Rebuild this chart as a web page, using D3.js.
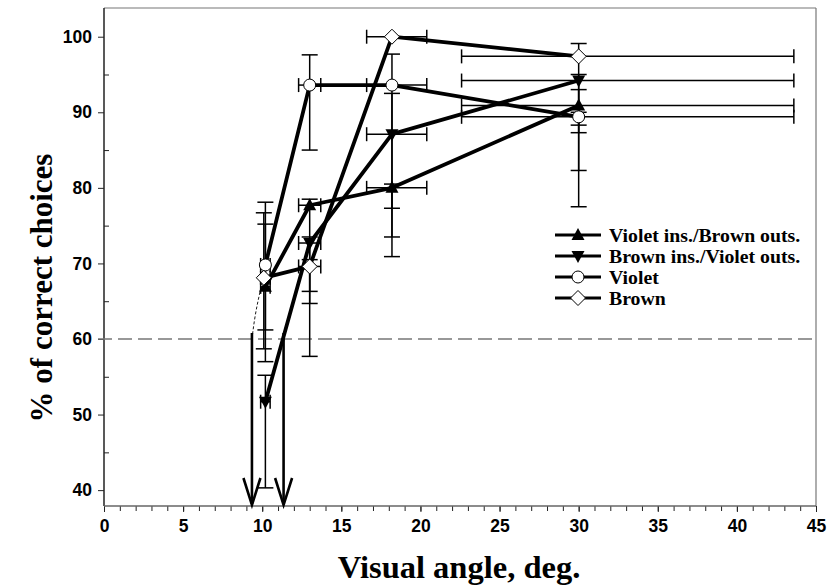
<!DOCTYPE html>
<html><head><meta charset="utf-8">
<script src="https://cdn.jsdelivr.net/npm/d3@7"></script>
<style>body{margin:0;background:#fff}svg{display:block}</style>
</head><body>
<svg id="c" width="830" height="585"></svg>
<script>
// ---- data ----
const seriesNames = ["Violet ins./Brown outs.", "Brown ins./Violet outs.", "Violet", "Brown"];
const seriesMarkers = ["triUp", "triDown", "circle", "diamond"];

const violetInsX = [10.2, 13.0, 18.2, 30.0];
const violetInsY = [66.9, 77.7, 80.0, 90.9];
const violetInsLow = [57.0, 66.3, 73.5, 88.3];
const violetInsHigh = [75.2, 78.5, 80.5, 93.0];

const brownInsX = [10.2, 13.0, 18.2, 30.0];
const brownInsY = [51.7, 72.7, 87.1, 94.2];
const brownInsLow = [40.3, 64.7, 70.9, 82.3];
const brownInsHigh = [55.2, 73.5, 92.5, 95.0];

const violetX = [10.2, 13.0, 18.2, 30.0];
const violetY = [69.8, 93.6, 93.6, 89.4];
const violetLow = [61.2, 85.0, 77.3, 77.5];
const violetHigh = [78.1, 97.6, 97.7, 90.0];

const brownX = [10.1, 13.0, 18.2, 30.0];
const brownY = [68.1, 69.6, 100.0, 97.4];
const brownLow = [58.7, 57.7, 100.0, 87.3];
const brownHigh = [76.7, 70.5, 100.0, 99.1];

// horizontal error extents (shared by all series at each visual angle)
const xErrLow = [9.9, 12.3, 16.6, 22.6];
const xErrHigh = [10.5, 13.7, 20.4, 43.6];

const thresholdValue = 60;
const arrowX = [9.35, 11.35];
const fitCurveX = [9.35, 9.6, 10.0];
const fitCurveY = [60, 63.6, 67.5];

const xTicks = [0, 5, 10, 15, 20, 25, 30, 35, 40, 45];
const yTicks = [40, 50, 60, 70, 80, 90, 100];

const xTitle = "Visual angle, deg.";
const yTitle = "% of correct choices";

// ---- chart ----
const svg = d3.select("#c");
const L = 104, R = 816, T = 8, B = 506;
const x = d3.scaleLinear([0, 45], [L, R]);
const y = d3.scaleLinear([37.9, 103.8], [B, T]);

const series = [
  {x: violetInsX, y: violetInsY, lo: violetInsLow, hi: violetInsHigh},
  {x: brownInsX, y: brownInsY, lo: brownInsLow, hi: brownInsHigh},
  {x: violetX, y: violetY, lo: violetLow, hi: violetHigh},
  {x: brownX, y: brownY, lo: brownLow, hi: brownHigh}
].map((s, i) => ({name: seriesNames[i], marker: seriesMarkers[i],
  pts: s.x.map((xv, j) => ({x: xv, y: s.y[j], lo: s.lo[j], hi: s.hi[j], xl: xErrLow[j], xh: xErrHigh[j]}))}));

const sansFont = "'Liberation Sans', Arial, sans-serif";
const serifFont = "'Liberation Serif', 'Times New Roman', serif";

// axes
const gx = svg.append("g").attr("transform", `translate(0,${B})`);
gx.call(d3.axisBottom(x).tickValues(d3.range(0, 46, 1)).tickSize(5).tickFormat(""));
gx.call(g => g.selectAll(".domain").remove());
const gx2 = svg.append("g").attr("transform", `translate(0,${B})`)
  .call(d3.axisBottom(x).tickValues(xTicks).tickSize(6).tickPadding(8).tickFormat(d3.format("d")));
gx2.select(".domain").remove();
gx2.selectAll("text").attr("font-family", sansFont).attr("font-weight", "bold").attr("font-size", 17.5).attr("fill", "#000");
svg.selectAll("g line").attr("stroke", "#222");

const gy = svg.append("g").attr("transform", `translate(${L},0)`)
  .call(d3.axisLeft(y).tickValues(yTicks).tickSize(6).tickPadding(6).tickFormat(d3.format("d")));
gy.select(".domain").remove();
gy.selectAll("text").attr("font-family", sansFont).attr("font-weight", "bold").attr("font-size", 17.5).attr("fill", "#000");
gy.selectAll("line").attr("stroke", "#222");
const gym = svg.append("g").attr("transform", `translate(${L},0)`)
  .call(d3.axisLeft(y).tickValues(d3.range(45, 100, 10)).tickSizeInner(-5).tickSizeOuter(0).tickFormat(""));
gym.select(".domain").remove();
gym.selectAll("line").attr("stroke", "#222");

// frame
svg.append("line").attr("x1", L).attr("x2", R).attr("y1", T).attr("y2", T).attr("stroke", "#777").attr("stroke-width", 1.2);
svg.append("line").attr("x1", R).attr("x2", R).attr("y1", T).attr("y2", B).attr("stroke", "#777").attr("stroke-width", 1.2);
svg.append("line").attr("x1", L).attr("x2", L).attr("y1", T).attr("y2", B).attr("stroke", "#222").attr("stroke-width", 1.5);
svg.append("line").attr("x1", L).attr("x2", R).attr("y1", B).attr("y2", B).attr("stroke", "#666").attr("stroke-width", 1.5);

// threshold dashed line
svg.append("line").attr("x1", L - 6).attr("x2", R).attr("y1", y(thresholdValue)).attr("y2", y(thresholdValue))
  .attr("stroke", "#777").attr("stroke-width", 1.5).attr("stroke-dasharray", "14,6");

// fit curve (thin dashed)
svg.append("path").datum(fitCurveX.map((v, i) => [v, fitCurveY[i]]))
  .attr("d", d3.line().x(d => x(d[0])).y(d => y(d[1])).curve(d3.curveNatural))
  .attr("fill", "none").attr("stroke", "#000").attr("stroke-width", 0.9).attr("stroke-dasharray", "3,2");

// arrows
arrowX.forEach(a => {
  const ax = x(a);
  svg.append("line").attr("x1", ax).attr("x2", ax).attr("y1", y(thresholdValue) - 6).attr("y2", B - 2)
    .attr("stroke", "#000").attr("stroke-width", 2.6);
  svg.append("path").attr("d", `M${ax - 8.5},${B - 28} L${ax},${B - 1} L${ax + 8.5},${B - 28}`)
    .attr("fill", "none").attr("stroke", "#000").attr("stroke-width", 2.6);
});

// error bars
const eb = svg.append("g").attr("stroke", "#000").attr("stroke-width", 1.5).attr("fill", "none");
series.forEach(s => s.pts.forEach(p => {
  const px = x(p.x), py = y(p.y);
  if (p.hi !== p.lo) {
    eb.append("line").attr("x1", px).attr("x2", px).attr("y1", y(p.lo)).attr("y2", y(p.hi));
    [p.lo, p.hi].forEach(v => eb.append("line").attr("x1", px - 8).attr("x2", px + 8).attr("y1", y(v)).attr("y2", y(v)));
  }
  eb.append("line").attr("x1", x(p.xl)).attr("x2", x(p.xh)).attr("y1", py).attr("y2", py);
  [p.xl, p.xh].forEach(v => eb.append("line").attr("x1", x(v)).attr("x2", x(v)).attr("y1", py - 7).attr("y2", py + 7));
}));

// series lines
const line = d3.line().x(d => x(d.x)).y(d => y(d.y));
series.forEach(s => svg.append("path").datum(s.pts).attr("d", line)
  .attr("fill", "none").attr("stroke", "#000").attr("stroke-width", 3.8).attr("stroke-linejoin", "round"));

// markers
function drawMarker(g, type, cx, cy) {
  if (type === "triUp") {
    g.append("path").attr("d", `M${cx},${cy - 7} L${cx + 6.5},${cy + 5} L${cx - 6.5},${cy + 5}Z`).attr("fill", "#000");
  } else if (type === "triDown") {
    g.append("path").attr("d", `M${cx},${cy + 7} L${cx + 6.5},${cy - 5} L${cx - 6.5},${cy - 5}Z`).attr("fill", "#000");
  } else if (type === "circle") {
    g.append("circle").attr("cx", cx).attr("cy", cy).attr("r", 6).attr("fill", "#fff").attr("stroke", "#000").attr("stroke-width", 1);
  } else {
    g.append("path").attr("d", `M${cx},${cy - 7.5} L${cx + 7.5},${cy} L${cx},${cy + 7.5} L${cx - 7.5},${cy}Z`)
      .attr("fill", "#fff").attr("stroke", "#000").attr("stroke-width", 1);
  }
}
const mk = svg.append("g");
series.forEach(s => s.pts.forEach(p => drawMarker(mk, s.marker, x(p.x), y(p.y))));

// legend
const lg = svg.append("g");
series.forEach((s, i) => {
  const ly = 235 + i * 21;
  lg.append("line").attr("x1", 555).attr("x2", 601).attr("y1", ly).attr("y2", ly).attr("stroke", "#000").attr("stroke-width", 3.2);
  drawMarker(lg, s.marker, 578, ly);
  lg.append("text").attr("x", 609).attr("y", ly + 6.5).text(s.name)
    .attr("font-family", serifFont).attr("font-weight", "bold").attr("font-size", 19.8).attr("fill", "#000");
});

// titles
svg.append("text").attr("x", 459).attr("y", 578).attr("text-anchor", "middle").text(xTitle)
  .attr("font-family", serifFont).attr("font-weight", "bold").attr("font-size", 32.5).attr("fill", "#000");
svg.append("text").attr("transform", "translate(52,288) rotate(-90)").attr("text-anchor", "middle").text(yTitle)
  .attr("font-family", serifFont).attr("font-weight", "bold").attr("font-size", 31).attr("fill", "#000");
</script>
</body></html>
